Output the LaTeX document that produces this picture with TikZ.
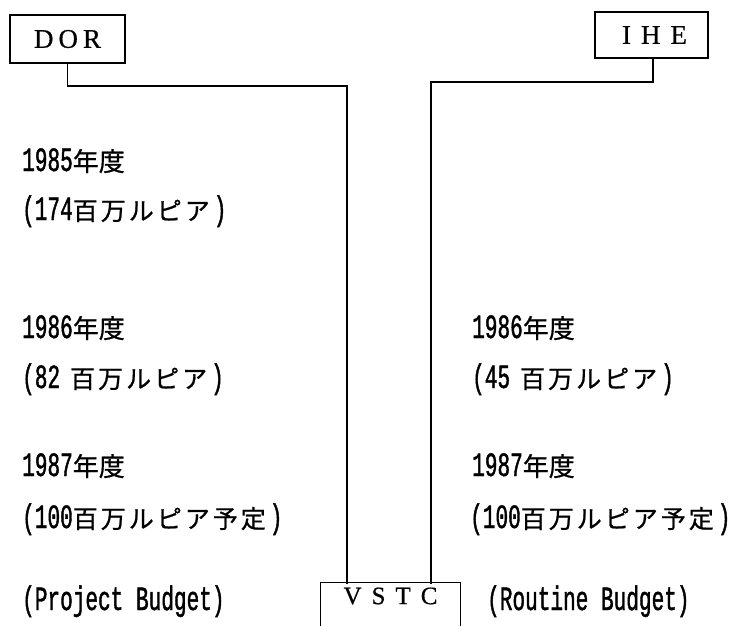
\documentclass[tikz,border=0pt]{standalone}
\usepackage{fontspec}
\setmainfont{Liberation Serif}
\newfontfamily\cjk[FakeBold=0.8]{Noto Sans CJK JP}
\newfontfamily\cjkw[FakeBold=0.8,LetterSpace=12]{Noto Sans CJK JP}
\newfontfamily\mono[FakeStretch=0.62,FakeBold=1.2]{Liberation Mono}
\newfontfamily\boxf[FakeBold=0.6]{Liberation Serif}
\newcommand\yr[1]{{\mono\fontsize{34}{34}\selectfont #1}{\cjk\fontsize{26}{26}\selectfont 年度}}
\newcommand\mn[2]{{\mono\fontsize{34}{34}\selectfont (#1}{\cjkw\fontsize{25}{25}\selectfont #2}\hspace{4pt}{\mono\fontsize{34}{34}\selectfont )}}
\begin{document}
\begin{tikzpicture}[x=1pt,y=-1pt,
  box/.style={draw,line width=1.3pt,minimum height=48pt,inner sep=0pt,font=\boxf\fontsize{27}{27}\selectfont},
  wire/.style={line width=1.3pt},
  lbl/.style={anchor=base west,inner sep=0pt}]
\useasboundingbox (0,0) rectangle (737,625);
\node[box,minimum width=115pt] (dor) at (67.5,39) {D\hspace{5pt}O\hspace{5pt}R};
\node[box,minimum width=113pt,minimum height=46pt] (ihe) at (651.5,35) {\hspace{6pt}I\hspace{10pt}H\hspace{10pt}E};
\node[inner sep=0pt,minimum width=139pt,minimum height=24pt,font=\boxf\fontsize{25}{25}\selectfont] (vstc) at (390.5,596) {V\hspace{10pt}S\hspace{10pt}T\hspace{10pt}C};
\draw[wire] ([yshift=-40pt]vstc.south west) -- ([yshift=1pt]vstc.north west) -- ([yshift=1pt]vstc.north east) -- ([yshift=-40pt]vstc.south east);
\coordinate (jl) at (347,86);
\coordinate (jr) at (431,82);
\draw[wire] (dor.south) |- (jl) -- (jl |- vstc.north);
\draw[wire] (ihe.south -| 653,0) |- (jr) -- (jr |- vstc.north);
% left column
\node[lbl] (l1) at (22,171) {\yr{1985}};
\node[lbl] (l2) at (22,220) {\mn{174}{百万ルピア}};
\node[lbl] (l3) at (22,338) {\yr{1986}};
\node[lbl] (l4) at (22,388) {\mn{82\hspace{10pt}}{百万ルピア}};
\node[lbl] (l5) at (22,476) {\yr{1987}};
\node[lbl] (l6) at (22,528) {\mn{100}{百万ルピア予定}};
\node[lbl] (l7) at (22,610) {\mono\fontsize{34}{34}\selectfont (Project Budget)};
% right column
\node[lbl] (r3) at (472,338) {\yr{1986}};
\node[lbl] (r4) at (472,388) {\mn{45\hspace{10pt}}{百万ルピア}};
\node[lbl] (r5) at (472,476) {\yr{1987}};
\node[lbl] (r6) at (470,528) {\mn{100}{百万ルピア予定}};
\node[lbl] (r7) at (487,610) {\mono\fontsize{34}{34}\selectfont (Routine Budget)};
\end{tikzpicture}
\end{document}
